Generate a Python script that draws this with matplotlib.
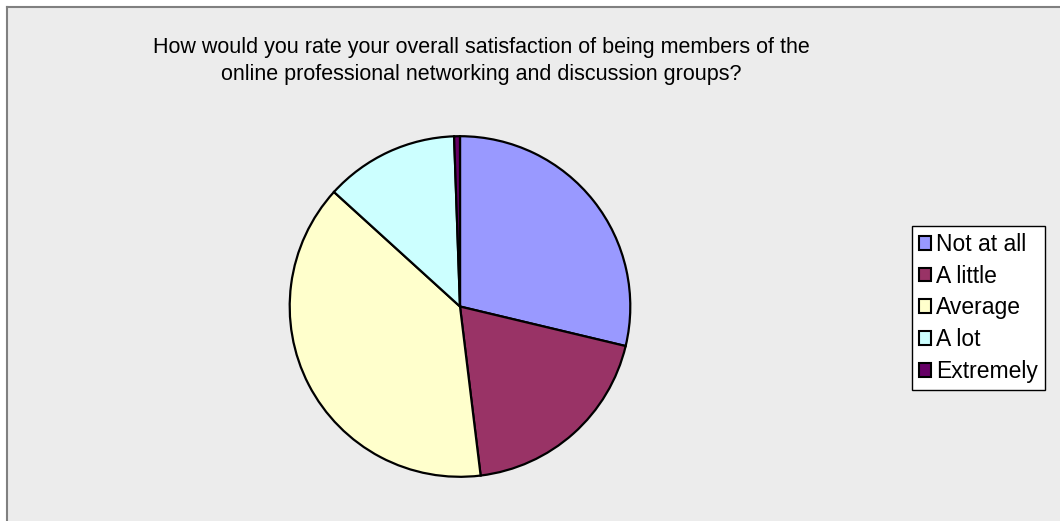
import matplotlib.pyplot as plt
from matplotlib.patches import Rectangle

labels = ['Not at all', 'A little', 'Average', 'A lot', 'Extremely']
counts = [52, 35, 70, 23, 1]
colors = ['#9999FF', '#993366', '#FFFFCC', '#CCFFFF', '#660066']
title = ('How would you rate your overall satisfaction of being members of the\n'
         'online professional networking and discussion groups?')

plt.rcParams['font.family'] = ['Liberation Sans', 'DejaVu Sans']

fig = plt.figure(figsize=(10.6, 5.21), dpi=100)
fig.patch.set_facecolor('white')

# grey chart area with a dark edge on top and left
fig.patches.append(Rectangle((7 / 1060, 0), 1.0, 1 - 7 / 521, transform=fig.transFigure,
                             facecolor='#ECECEC', edgecolor='none', zorder=-5))
fig.add_artist(plt.Line2D([7 / 1060, 1], [1 - 7 / 521] * 2, color='#808080', lw=1.5))
fig.add_artist(plt.Line2D([7 / 1060] * 2, [0, 1 - 7 / 521], color='#808080', lw=1.5))

fig.text(481 / 1060, 1 - 61 / 521, title, ha='center', va='center', fontsize=15.5,
         linespacing=1.4)

ax = fig.add_axes([(460 - 172) / 1060, (521 - 306.5 - 172) / 521, 344 / 1060, 344 / 521])
ax.set_zorder(1)
wedges, _ = ax.pie(counts, colors=colors, startangle=90, counterclock=False,
                   radius=1.0, wedgeprops=dict(edgecolor='black', linewidth=1.6))
ax.set_xlim(-1.01, 1.01)
ax.set_ylim(-1.01, 1.01)
ax.set_aspect('equal')
ax.axis('off')

leg = fig.legend(wedges, labels, loc='upper left',
                 bbox_to_anchor=(912 / 1060, 1 - 226 / 521), fontsize=16.5,
                 frameon=True, fancybox=False, edgecolor='black', facecolor='white',
                 framealpha=1, handlelength=0.55, handleheight=0.55, handletextpad=0.2,
                 labelspacing=0.38, borderpad=0.3, borderaxespad=0)
leg.set_zorder(2)
leg.get_frame().set_linewidth(1.0)
for h in leg.legend_handles:
    h.set_linewidth(1.5)

fig.savefig('out.png', dpi=100)
